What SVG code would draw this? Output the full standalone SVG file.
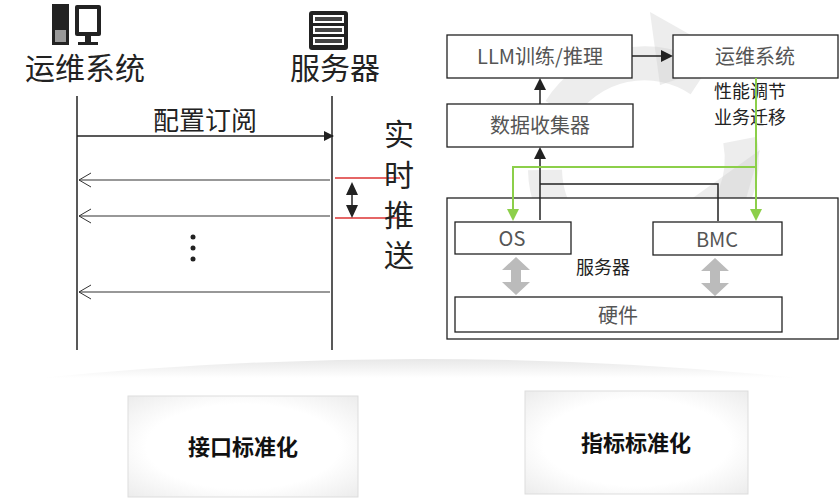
<svg xmlns="http://www.w3.org/2000/svg" width="839" height="499" viewBox="0 0 839 499">
<style>
text{font-family:"Noto Sans CJK SC","Liberation Sans",sans-serif}
.ln{stroke:#222;stroke-width:1.5;fill:none}
.bx{fill:#fff;stroke:#222;stroke-width:1.3}
.t{fill:#555;font-size:20px;text-anchor:middle}
.g{stroke:#8ccf4a;stroke-width:2;fill:none}
</style>
<defs>
<marker id="fa" markerWidth="10" markerHeight="10" refX="9" refY="5" orient="auto" markerUnits="userSpaceOnUse"><path d="M0,0L10,5L0,10z" fill="#222"/></marker>
<marker id="oa" markerWidth="14" markerHeight="16" refX="13" refY="8" orient="auto" markerUnits="userSpaceOnUse"><path d="M1,1L13,8L1,15" fill="none" stroke="#333" stroke-width="1"/></marker>
<marker id="ga" markerWidth="12" markerHeight="12" refX="10" refY="6" orient="auto" markerUnits="userSpaceOnUse"><path d="M0,0L12,6L0,12z" fill="#8ccf4a"/></marker>
<marker id="ba" markerWidth="12" markerHeight="12" refX="10" refY="6" orient="auto" markerUnits="userSpaceOnUse"><path d="M0,0L12,6L0,12z" fill="#222"/></marker>
<linearGradient id="arcg" x1="0" y1="0" x2="0" y2="1"><stop offset="0" stop-color="#e8e8e8"/><stop offset="1" stop-color="#fff"/></linearGradient>
<radialGradient id="bg" cx="0.5" cy="0.5" r="0.7"><stop offset="0.6" stop-color="#fff"/><stop offset="1" stop-color="#ececec"/></radialGradient>
</defs>
<!-- background cycle -->
<g opacity="0.35" fill="none" stroke="#ccc" stroke-width="34">
<path d="M560,110 A100,100 0 0 1 700,80"/>
<path d="M740,140 A100,100 0 0 1 700,240"/>
<path d="M640,268 A100,100 0 0 1 545,170"/>
</g>
<g opacity="0.35" fill="#ccc">
<path d="M650,12 L735,60 L660,85z"/>
<path d="M760,150 L730,255 L690,200z"/>
<path d="M560,210 L650,285 L540,280z"/>
</g>
<!-- left: sequence -->
<g id="ops-icon" fill="#222">
<rect x="52" y="4" width="17" height="41"/>
<rect x="55" y="30" width="11" height="12" fill="#999"/>
<rect x="75" y="5" width="26" height="31" rx="2"/><rect x="79" y="9" width="18" height="23" fill="#fff"/>
<rect x="85" y="36" width="6" height="6"/><rect x="78" y="42" width="20" height="3"/>
</g>
<g id="srv-icon">
<rect x="309" y="11" width="39" height="39" rx="3" fill="#222"/>
<rect x="313" y="15" width="31" height="8" fill="#fff"/><rect x="313" y="26" width="31" height="8" fill="#fff"/><rect x="313" y="37" width="31" height="8" fill="#fff"/>
<rect x="315" y="17" width="27" height="4" fill="#444"/><rect x="315" y="28" width="27" height="4" fill="#444"/><rect x="315" y="39" width="27" height="4" fill="#444"/>
</g>
<text x="85" y="79" font-size="30" text-anchor="middle" fill="#222">运维系统</text>
<text x="335" y="79" font-size="30" text-anchor="middle" fill="#222">服务器</text>
<g id="connectors-left">
<line class="ln" x1="77" y1="96" x2="77" y2="350"/>
<line class="ln" x1="332" y1="96" x2="332" y2="350"/>
<line class="ln" x1="77" y1="136" x2="333" y2="136" marker-end="url(#fa)"/>
<line stroke="#333" stroke-width="1.2" x1="330" y1="180" x2="79" y2="180" marker-end="url(#oa)"/>
<line stroke="#333" stroke-width="1.2" x1="330" y1="216" x2="79" y2="216" marker-end="url(#oa)"/>
<line stroke="#333" stroke-width="1.2" x1="330" y1="292" x2="79" y2="292" marker-end="url(#oa)"/>
<line stroke="#d33" stroke-width="1.3" x1="335" y1="178" x2="400" y2="178"/>
<line stroke="#d33" stroke-width="1.3" x1="335" y1="218" x2="400" y2="218"/>
<line stroke="#222" stroke-width="1.5" x1="352" y1="185" x2="352" y2="212"/>
<path d="M346,195L352,182L358,195z M346,205L352,218L358,205z" fill="#222"/>
</g>
<g fill="#222"><circle cx="193" cy="237" r="2.5"/><circle cx="193" cy="248" r="2.5"/><circle cx="193" cy="259" r="2.5"/></g>
<text x="205" y="130" font-size="26" text-anchor="middle" fill="#222">配置订阅</text>
<g font-size="30" fill="#222" text-anchor="middle">
<text x="399" y="145">实</text><text x="399" y="186">时</text><text x="399" y="226">推</text><text x="399" y="266">送</text>
</g>
<!-- right -->
<g id="srv-box"><rect class="bx" x="447" y="198" width="391" height="141" fill="none"/><text x="603" y="274" font-size="18" fill="#222" text-anchor="middle">服务器</text></g>
<g id="llm"><rect class="bx" x="447" y="35" width="185" height="43"/><text class="t" x="540" y="64">LLM训练/推理</text></g>
<g id="ops"><rect class="bx" x="673" y="35" width="165" height="43"/><text class="t" x="755" y="64">运维系统</text></g>
<g id="collector"><rect class="bx" x="447" y="104" width="186" height="43"/><text class="t" x="540" y="133">数据收集器</text></g>
<g id="os"><rect class="bx" x="455" y="222" width="116" height="32"/><text class="t" x="512" y="246" font-size="22">OS</text></g>
<g id="bmc"><rect class="bx" x="653" y="222" width="129" height="33"/><text class="t" x="717" y="247" font-size="22">BMC</text></g>
<g id="hw"><rect class="bx" x="455" y="297" width="327" height="35"/><text class="t" x="618" y="323" font-size="22">硬件</text></g>
<text x="750" y="98" font-size="18" fill="#222" text-anchor="middle">性能调节</text>
<text x="750" y="124" font-size="18" fill="#222" text-anchor="middle">业务迁移</text>
<g id="connectors-right">
<line class="ln" stroke-width="2" x1="632" y1="56" x2="671" y2="56" marker-end="url(#ba)"/>
<line class="ln" stroke-width="2" x1="540" y1="104" x2="540" y2="80" marker-end="url(#ba)"/>
<path class="ln" stroke-width="2" d="M540,220 V149" marker-end="url(#ba)"/>
<path class="ln" stroke-width="2" d="M540,184 H718 V221"/>
<path class="g" d="M756,78 V219" marker-end="url(#ga)"/>
<path class="g" d="M756,167 H513 V219" marker-end="url(#ga)"/>
<g fill="#bbb">
<path d="M516,257 L530,270 L521,270 L521,282 L530,282 L516,295 L502,282 L511,282 L511,270 L502,270z"/>
<path d="M715,258 L729,271 L720,271 L720,283 L729,283 L715,296 L701,283 L710,283 L710,271 L701,271z"/>
</g>
</g>
<!-- bottom -->
<path d="M40,378 Q420,340 800,378z" fill="url(#arcg)"/>
<g id="iface"><rect x="128" y="396" width="230" height="101" fill="url(#bg)" stroke="#ddd"/><text x="243" y="455" font-size="22" font-weight="bold" text-anchor="middle" fill="#111">接口标准化</text></g>
<g id="metric"><rect x="525" y="391" width="223" height="103" fill="url(#bg)" stroke="#ddd"/><text x="636" y="451" font-size="22" font-weight="bold" text-anchor="middle" fill="#111">指标标准化</text></g>
</svg>
